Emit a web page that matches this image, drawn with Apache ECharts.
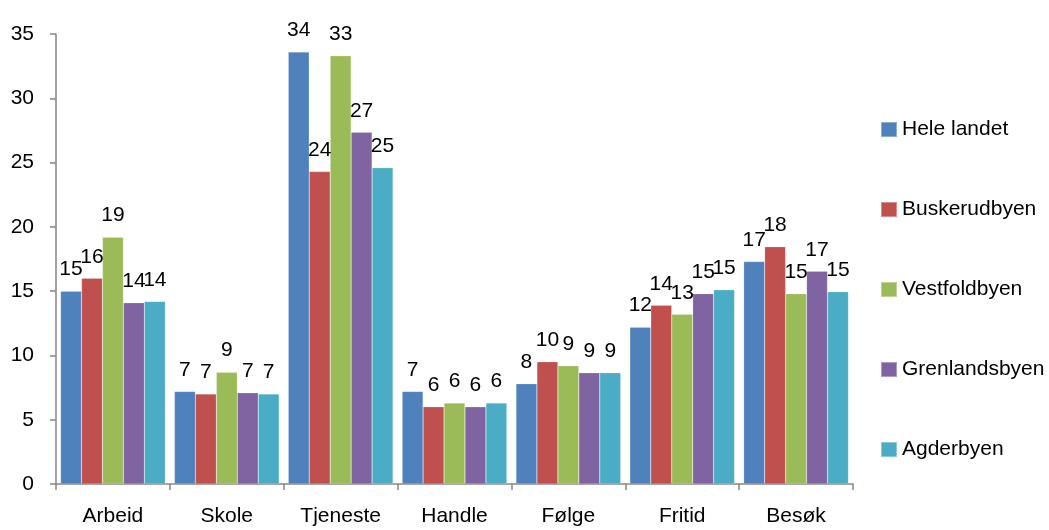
<!DOCTYPE html>
<html>
<head>
<meta charset="utf-8">
<script src="https://cdn.jsdelivr.net/npm/echarts@6/dist/echarts.min.js"></script>
<style>
html,body{margin:0;padding:0;background:#fff;}
#chart{width:1049px;height:530px;}
</style>
</head>
<body>
<div id="chart"></div>
<script>
var categories = ["Arbeid", "Skole", "Tjeneste", "Handle", "Følge", "Fritid", "Besøk"];
var seriesNames = ["Hele landet", "Buskerudbyen", "Vestfoldbyen", "Grenlandsbyen", "Agderbyen"];
var heleLandet    = [15.0, 7.2, 33.6, 7.2, 7.8, 12.2, 17.3];
var buskerudbyen  = [16.0, 7.0, 24.3, 6.0, 9.5, 13.9, 18.45];
var vestfoldbyen  = [19.2, 8.7, 33.3, 6.3, 9.2, 13.2, 14.8];
var grenlandsbyen = [14.1, 7.1, 27.35, 6.0, 8.65, 14.8, 16.55];
var agderbyen     = [14.2, 7.0, 24.6, 6.3, 8.65, 15.1, 14.95];
var yTicks = [0, 5, 10, 15, 20, 25, 30, 35];

var seriesData = [heleLandet, buskerudbyen, vestfoldbyen, grenlandsbyen, agderbyen];
var colors = ["#4F81BD", "#C0504D", "#9BBB59", "#8064A2", "#4BACC6"];
var fontFam = "'Liberation Sans', Arial, sans-serif";
var fs = 21;

var chart = echarts.init(document.getElementById('chart'), null, {renderer: 'canvas'});
var option = {
  animation: false,
  color: colors,
  textStyle: {fontFamily: fontFam},
  grid: {left: 56, right: 196, top: 34, bottom: 46, containLabel: false},
  legend: {
    orient: 'vertical',
    left: 875,
    top: 114,
    itemWidth: 16,
    itemHeight: 15,
    itemGap: 59,
    icon: 'rect',
    textStyle: {fontSize: fs, color: '#000', fontFamily: fontFam, lineHeight: 21},
    data: seriesNames
  },
  xAxis: {
    type: 'category',
    data: categories,
    axisLine: {lineStyle: {color: '#868686', width: 1.5}},
    axisTick: {show: true, length: 6, alignWithLabel: false, lineStyle: {color: '#868686', width: 1.5}},
    axisLabel: {fontSize: fs, color: '#000', margin: 22, interval: 0, fontFamily: fontFam}
  },
  yAxis: {
    type: 'value',
    min: yTicks[0],
    max: yTicks[yTicks.length - 1],
    interval: 5,
    splitLine: {show: false},
    axisLine: {show: true, lineStyle: {color: '#868686', width: 1.5}},
    axisTick: {show: true, length: 6, lineStyle: {color: '#868686', width: 1.5}},
    axisLabel: {fontSize: fs, color: '#000', margin: 22, fontFamily: fontFam}
  },
  series: seriesNames.map(function (name, i) {
    return {
      name: name,
      type: 'bar',
      data: seriesData[i],
      barGap: '0%',
      barCategoryGap: '8%',
      itemStyle: {color: colors[i], borderColor: 'rgba(255,255,255,0.35)', borderWidth: 0.5},
      label: {
        show: true,
        position: 'top',
        distance: 11,
        fontSize: fs,
        color: '#000',
        fontFamily: fontFam,
        formatter: function (p) { return Math.round(p.value); }
      }
    };
  })
};
chart.setOption(option);
</script>
</body>
</html>
